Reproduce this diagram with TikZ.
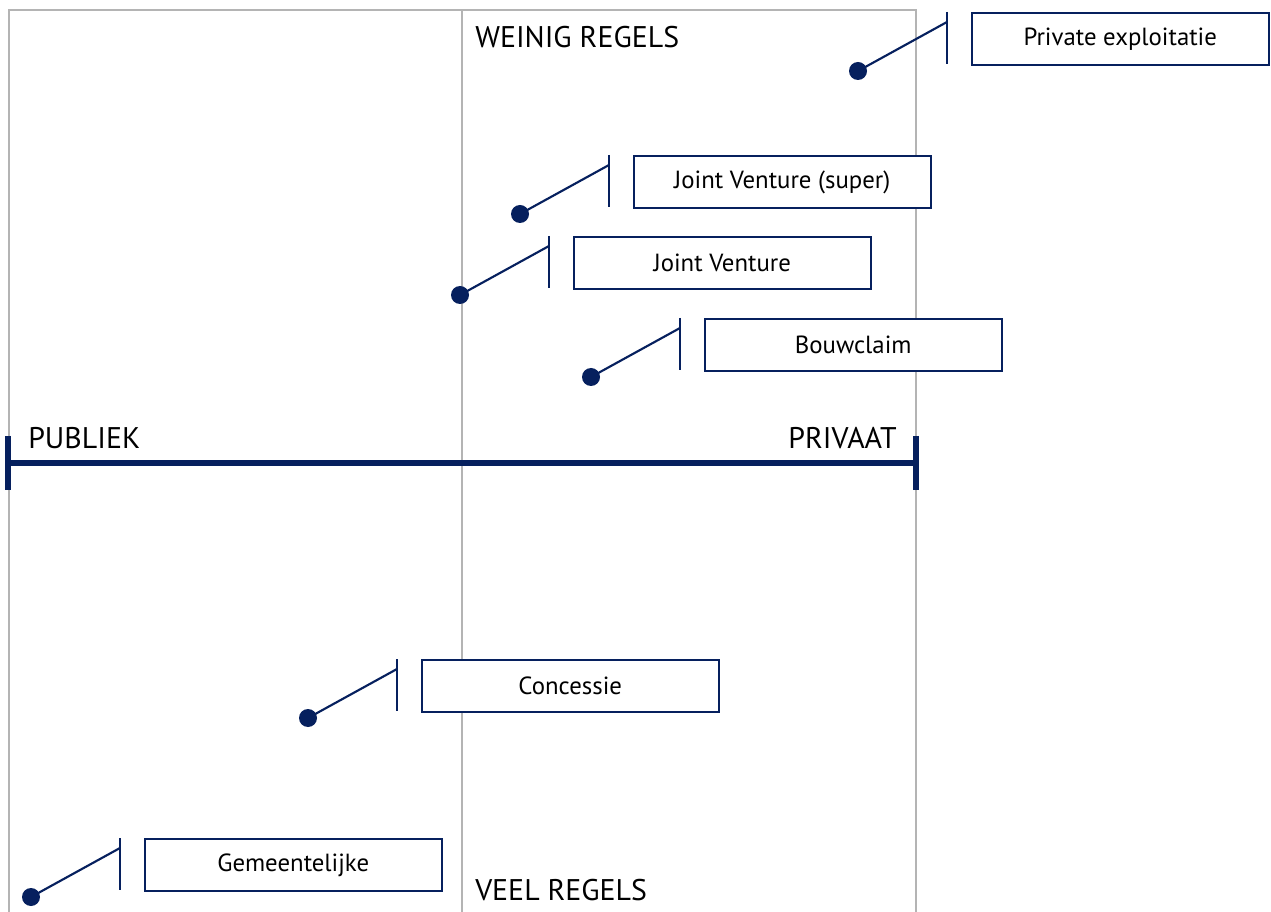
\documentclass[tikz,border=0pt]{standalone}
\usepackage{fontspec}
\setmainfont{PT Sans}
\usepackage{xcolor}
\usepackage{tikz}
\usetikzlibrary{calc,positioning}
\definecolor{navy}{HTML}{06205E}
\definecolor{rule}{HTML}{B4B4B4}
\tikzset{
  frame/.style={draw=rule, line width=1.6pt},
  midline/.style={draw=rule, line width=1.1pt},
  axis/.style={draw=navy, line width=3.8pt},
  pole/.style={font=\fontsize{22.4}{24}\selectfont, text=black, inner sep=0pt},
  dot/.style={circle, fill=navy, minimum size=13.5pt, inner sep=0pt},
  leader/.style={draw=navy, line width=1.6pt},
  vormbox/.style={
    draw=navy,
    line width=1.6pt,
    fill=white,
    minimum width=223pt,
    minimum height=39pt,
    inner sep=0pt,
    align=center,
    font=\fontsize{18.6}{21}\selectfont
  }
}
% one deal form: dot, leader line, stop bar and labelled box
\newcommand{\vorm}[4]{%
  \node[dot] (#1-dot) at (#2,#3) {};
  \coordinate (#1-top) at ($(#1-dot)+(89,-59)$);
  \coordinate (#1-bot) at ($(#1-dot)+(89,-7)$);
  \coordinate (#1-hit) at ($(#1-dot)+(89,-49)$);
  \draw[leader] (#1-dot.center) -- (#1-hit);
  \draw[leader] (#1-top) -- (#1-bot);
  \node[vormbox, anchor=north west] (#1) at ($(#1-top)+(23.5,0)$) {#4};
}

\begin{document}
\begin{tikzpicture}[x=0.75pt,y=-0.75pt]
\path[use as bounding box] (0,0) rectangle (1271,912);
\fill[white] (0,0) rectangle (1271,912);

% quadrant frame
\draw[frame] (9,915) -- (9,10) -- (916,10) -- (916,915);
\draw[midline] (462,10) -- (462,915);

% axis publiek - privaat
\coordinate (publiek) at (8,463);
\coordinate (privaat) at (916,463);
\draw[axis] (publiek) -- (privaat);
\draw[axis] ($(publiek)+(0,-27)$) -- ($(publiek)+(0,27)$);
\draw[axis] ($(privaat)+(0,-27)$) -- ($(privaat)+(0,27)$);
\node[pole, anchor=west] (publabel) at (28,438) {PUBLIEK};
\node[pole, anchor=east] (privlabel) at (897,438) {PRIVAAT};
\node[pole, anchor=west] (weinig) at (475,37) {WEINIG REGELS};
\node[pole, anchor=west] (veel) at (475,890) {VEEL REGELS};

\vorm{private}{858}{71}{Private exploitatie}
\vorm{jvsuper}{520}{214}{Joint Venture (super)}
\vorm{jv}{460}{295}{Joint Venture}
\vorm{bouwclaim}{591}{377}{Bouwclaim}
\vorm{concessie}{308}{718}{Concessie}
\vorm{gemeente}{31}{897}{Gemeentelijke}
\end{tikzpicture}
\end{document}
